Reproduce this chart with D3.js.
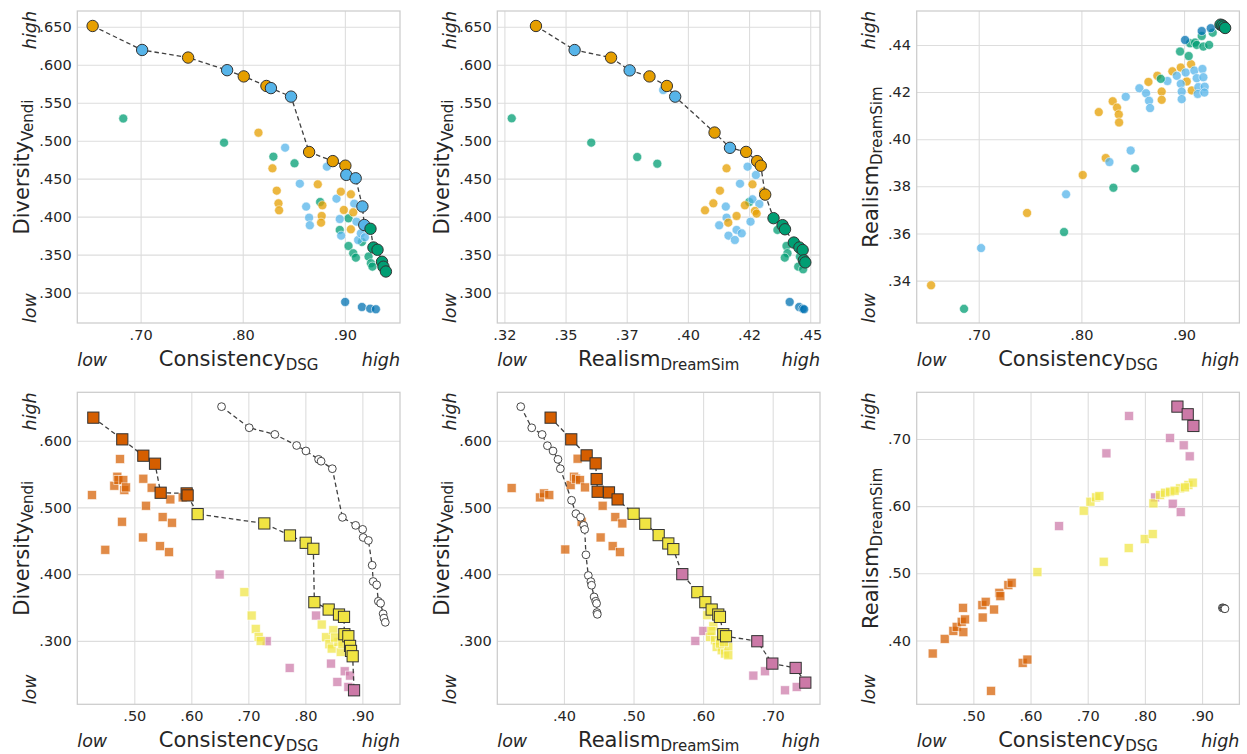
<!DOCTYPE html>
<html>
<head>
<meta charset="utf-8">
<script src="https://cdn.jsdelivr.net/npm/d3@7"></script>
<style>
  body { margin: 0; background: #fff; }
  svg text { font-family: "DejaVu Sans", sans-serif; fill: #262626; }
</style>
</head>
<body>
<svg id="chart" width="1247" height="754"></svg>
<script>
"use strict";

// ---- data: [x, y, group] ----
// groups: o orange, s sky blue, g green, b blue, v vermillion, y yellow, p purple

// pareto fronts of the top row (also redrawn as hollow reference circles below)
const frontConsDiv = [
  [.653, .651, "o"], [.7015, .6194, "s"], [.7465, .6094, "o"], [.7847, .5928, "s"],
  [.801, .5846, "o"], [.8232, .5720, "o"], [.8276, .5692, "s"], [.8473, .5580, "s"],
  [.8650, .4851, "o"], [.8882, .4731, "o"], [.9005, .4671, "o"], [.9014, .4550, "s"],
  [.9106, .4505, "s"], [.9172, .4134, "s"], [.9190, .3890, "s"], [.9251, .3840, "g"],
  [.9280, .3594, "g"], [.9320, .3564, "g"], [.9364, .3406, "g"], [.9378, .3341, "g"],
  [.9402, .3278, "g"]
];
const frontRealDiv = [
  [.3379, .651, "o"], [.3537, .6193, "s"], [.3686, .6093, "o"], [.3762, .5925, "s"],
  [.3843, .5846, "o"], [.3914, .5720, "o"], [.3948, .5580, "s"], [.4109, .5107, "o"],
  [.4172, .4906, "s"], [.4238, .4852, "o"], [.4283, .4731, "o"], [.4298, .4670, "o"],
  [.4316, .4290, "o"], [.4350, .3980, "g"], [.4387, .3888, "g"], [.4397, .3834, "g"],
  [.4433, .3659, "g"], [.4456, .3594, "g"], [.4469, .3561, "g"], [.4474, .3425, "g"],
  [.4480, .3398, "g"]
];
const frontConsReal = [
  [.9355, .4486, "g"], [.9372, .4483, "g"], [.9386, .4478, "g"], [.9400, .4472, "g"]
];

const cloudConsDiv = [
  [.683, .5292, "g"], [.7817, .4974, "g"], [.8300, .4790, "g"], [.8507, .4702, "g"],
  [.8758, .4193, "g"], [.8950, .3825, "g"], [.9036, .3978, "g"], [.9036, .3614, "g"],
  [.9082, .3518, "g"], [.9108, .3460, "g"], [.9167, .3667, "g"], [.9232, .3474, "g"],
  [.9255, .3386, "g"], [.9270, .3342, "g"],
  [.8415, .4908, "s"], [.8824, .4658, "s"], [.8559, .4434, "s"], [.8621, .4132, "s"],
  [.8650, .3987, "s"], [.8657, .3886, "s"], [.8918, .4237, "s"], [.8950, .3969, "s"],
  [.8964, .3750, "s"], [.9092, .4171, "s"], [.9114, .3934, "s"], [.9130, .3693, "s"],
  [.9157, .3780, "s"], [.9196, .3728, "s"],
  [.9003, .2877, "b"], [.9167, .2811, "b"], [.9248, .2789, "b"], [.9304, .2781, "b"],
  [.8154, .5105, "o"], [.8291, .4636, "o"], [.8333, .4342, "o"], [.8350, .4175, "o"],
  [.8356, .4083, "o"], [.8735, .4425, "o"], [.8780, .4149, "o"], [.8773, .4009, "o"],
  [.8767, .3921, "o"], [.8961, .4329, "o"], [.9059, .4294, "o"], [.8990, .4088, "o"],
  [.9082, .4057, "o"], [.9059, .3833, "o"]
];
const cloudRealDiv = [
  [.3280, .5294, "g"], [.3605, .4974, "g"], [.3793, .4785, "g"], [.3875, .4697, "g"],
  [.4251, .4193, "g"], [.4366, .3825, "g"], [.4403, .3614, "g"], [.4407, .3518, "g"],
  [.4396, .3460, "g"], [.4451, .3342, "g"], [.4458, .3474, "g"], [.4471, .3307, "g"],
  [.3899, .5667, "s"], [.4244, .4658, "s"], [.4213, .4434, "s"], [.4278, .4548, "s"],
  [.4155, .4132, "s"], [.4158, .3987, "s"], [.4128, .3886, "s"], [.4166, .3750, "s"],
  [.4192, .3693, "s"], [.4264, .4228, "s"], [.4292, .4167, "s"], [.4256, .3934, "s"],
  [.4199, .3825, "s"], [.4220, .3780, "s"],
  [.4416, .2877, "b"], [.4455, .2811, "b"], [.4469, .2789, "b"], [.4475, .2781, "b"],
  [.4158, .4636, "o"], [.4131, .4342, "o"], [.4104, .4175, "o"], [.4070, .4083, "o"],
  [.4264, .4425, "o"], [.4199, .4009, "o"], [.4233, .4149, "o"], [.4274, .4075, "o"],
  [.4281, .4040, "o"], [.4165, .3921, "o"], [.4308, .4329, "o"]
];
const cloudConsReal = [
  [.6536, .3380, "o"], [.7471, .3687, "o"], [.8013, .3848, "o"], [.8237, .3920, "o"],
  [.8169, .4115, "o"], [.8305, .4161, "o"], [.8347, .4134, "o"], [.8364, .4105, "o"],
  [.8367, .4071, "o"], [.8653, .4243, "o"], [.8740, .4269, "o"], [.8782, .4202, "o"],
  [.8782, .4167, "o"], [.8886, .4288, "o"], [.8968, .4304, "o"], [.9068, .4318, "o"],
  [.9026, .4245, "o"], [.9075, .4207, "o"],
  [.7023, .3538, "s"], [.7851, .3766, "s"], [.8273, .3903, "s"], [.8480, .3952, "s"],
  [.8432, .4180, "s"], [.8565, .4216, "s"], [.8630, .4195, "s"], [.8659, .4163, "s"],
  [.8669, .4132, "s"], [.8838, .4247, "s"], [.8929, .4269, "s"], [.8968, .4235, "s"],
  [.8977, .4202, "s"], [.8977, .4170, "s"], [.9016, .4283, "s"], [.9100, .4291, "s"],
  [.9123, .4259, "s"], [.9139, .4221, "s"], [.9133, .4192, "s"], [.9179, .4298, "s"],
  [.9188, .4263, "s"], [.9201, .4223, "s"], [.9198, .4198, "s"],
  [.6857, .3280, "g"], [.7831, .3606, "g"], [.8312, .3794, "g"], [.8523, .3876, "g"],
  [.8773, .4256, "g"], [.8961, .4372, "g"], [.9045, .4353, "g"], [.9058, .4407, "g"],
  [.9107, .4410, "g"], [.9123, .4400, "g"], [.9188, .4393, "g"], [.9244, .4400, "g"],
  [.9172, .4438, "g"], [.9279, .4452, "g"],
  [.9010, .4421, "b"], [.9172, .4459, "b"], [.9260, .4471, "b"]
];

// bottom row: square markers
const frontConsDivB = [
  [.4281, .6345, "v"], [.4789, .6020, "v"], [.5158, .5775, "v"], [.5363, .5655, "v"],
  [.5462, .5220, "v"], [.5918, .5210, "v"], [.5935, .5180, "v"],
  [.6111, .4900, "y"], [.7280, .4760, "y"], [.7730, .4580, "y"], [.8006, .4470, "y"],
  [.8140, .4380, "y"], [.8158, .3580, "y"], [.8409, .3470, "y"], [.8590, .3395, "y"],
  [.8678, .3360, "y"], [.8684, .3100, "y"], [.8754, .3070, "y"], [.8784, .2925, "y"],
  [.8801, .2850, "y"], [.8830, .2770, "y"], [.8854, .2260, "p"]
];
const frontRealDivB = [
  [.3808, .6345, "v"], [.4105, .6020, "v"], [.4326, .5780, "v"], [.4455, .5660, "v"],
  [.4470, .5425, "v"], [.4484, .5235, "v"], [.4647, .5225, "v"], [.4771, .5120, "v"],
  [.5001, .4905, "y"], [.5169, .4755, "y"], [.5361, .4585, "y"], [.5500, .4460, "y"],
  [.5572, .4375, "y"], [.5701, .4000, "p"], [.5917, .3730, "y"], [.6032, .3580, "y"],
  [.6123, .3470, "y"], [.6218, .3395, "y"], [.6242, .3360, "y"], [.6290, .3100, "y"],
  [.6329, .3070, "y"], [.6779, .2995, "p"], [.6995, .2660, "p"], [.7330, .2595, "p"],
  [.7469, .2375, "p"]
];
const frontConsRealB = [
  [.8569, .7482, "p"], [.8749, .7368, "p"], [.8848, .7194, "p"]
];

const cloudConsDivB = [
  [.4257, .5185, "v"], [.4491, .4365, "v"], [.4649, .5325, "v"], [.4702, .5460, "v"],
  [.4720, .5410, "v"], [.4749, .5725, "v"], [.4784, .4785, "v"], [.4807, .5410, "v"],
  [.4825, .5260, "v"], [.4854, .5300, "v"], [.5158, .5430, "v"], [.5205, .5025, "v"],
  [.5304, .5295, "v"], [.5152, .4550, "v"], [.5450, .4420, "v"], [.5497, .4855, "v"],
  [.5608, .4330, "v"], [.5632, .5120, "v"], [.5661, .4770, "v"], [.5848, .5150, "v"],
  [.6497, .3995, "p"], [.7322, .2995, "p"], [.7725, .2595, "p"], [.8187, .3380, "p"],
  [.8450, .2660, "p"], [.8561, .2385, "p"], [.8690, .2545, "p"], [.8784, .2480, "p"],
  [.8754, .2310, "p"],
  [.6930, .3730, "y"], [.7058, .3380, "y"], [.7130, .3180, "y"], [.7181, .3060, "y"],
  [.7216, .3000, "y"], [.8287, .3245, "y"], [.8363, .3055, "y"], [.8421, .2950, "y"],
  [.8462, .2885, "y"], [.8491, .3160, "y"], [.8579, .2985, "y"], [.8620, .2835, "y"],
  [.8520, .3050, "y"], [.8650, .2950, "y"]
];
const cloudRealDivB = [
  [.3248, .5290, "v"], [.3655, .5150, "v"], [.3713, .5210, "v"], [.3789, .5185, "v"],
  [.4019, .4370, "v"], [.4096, .5335, "v"], [.4144, .5460, "v"], [.4173, .5430, "v"],
  [.4196, .5730, "v"], [.4230, .5410, "v"], [.4302, .5300, "v"], [.4254, .4785, "v"],
  [.4527, .4550, "v"], [.4556, .5025, "v"], [.4700, .4420, "v"], [.4738, .4855, "v"],
  [.4805, .4330, "v"], [.4839, .4760, "v"],
  [.5888, .3000, "p"], [.6003, .3150, "p"], [.6722, .2480, "p"], [.6889, .2545, "p"],
  [.7177, .2260, "p"], [.7345, .2310, "p"],
  [.6060, .3385, "y"], [.6147, .3220, "y"], [.6100, .3060, "y"], [.6171, .3010, "y"],
  [.6195, .2910, "y"], [.6267, .2860, "y"], [.6314, .2810, "y"], [.6362, .2910, "y"],
  [.6362, .2785, "y"], [.6242, .2960, "y"], [.6120, .3150, "y"], [.6300, .2980, "y"]
];
const cloudConsRealB = [
  [.7723, .7343, "p"], [.7327, .6786, "p"], [.8440, .7015, "p"], [.8679, .6906, "p"],
  [.8784, .6742, "p"], [.6499, .5703, "p"], [.8487, .6036, "p"], [.8627, .5912, "p"],
  [.8178, .6130, "p"],
  [.6120, .5018, "y"], [.6930, .5932, "y"], [.7047, .6066, "y"], [.7146, .6131, "y"],
  [.7204, .6150, "y"], [.7280, .5172, "y"], [.7717, .5376, "y"], [.7997, .5510, "y"],
  [.8137, .5584, "y"], [.8149, .6041, "y"], [.8265, .6165, "y"], [.8353, .6200, "y"],
  [.8440, .6215, "y"], [.8615, .6265, "y"], [.8761, .6315, "y"], [.8837, .6350, "y"],
  [.8520, .6230, "y"], [.8700, .6280, "y"],
  [.4289, .3806, "v"], [.4499, .4024, "v"], [.4650, .4143, "v"], [.4708, .4203, "v"],
  [.4796, .4278, "v"], [.4819, .4486, "v"], [.4825, .4124, "v"], [.4854, .4314, "v"],
  [.5157, .4526, "v"], [.5163, .4342, "v"], [.5216, .4576, "v"], [.5362, .4461, "v"],
  [.5309, .3250, "v"], [.5455, .4710, "v"], [.5472, .4660, "v"], [.5612, .4824, "v"],
  [.5670, .4859, "v"], [.5863, .3667, "v"], [.5945, .3716, "v"]
];

// ticks
const divTicksTop = [.30, .35, .40, .45, .50, .55, .60, .65];
const divTicksBottom = [.30, .40, .50, .60];
const consTicksTop = [.70, .80, .90];
const consTicksBottom = [.50, .60, .70, .80, .90];
const realTicksTop = [.325, .35, .375, .40, .425, .45];
const realTickLabelsTop = [".32", ".35", ".37", ".40", ".42", ".45"];
const realTicksRight = [.34, .36, .38, .40, .42, .44];
const realTicksBottom = [.40, .50, .60, .70];
const realTicksRightB = [.40, .50, .60, .70];

const colors = {
  o: "#E69F00", s: "#56B4E9", g: "#009E73", b: "#0072B2",
  v: "#D55E00", y: "#F0E442", p: "#CC79A7"
};

const svg = d3.select("#chart");
const W = 322.7, H = 312;
const cols = [77.3, 497.3, 916.7];
const rows = [11, 392.3];

const noZero = (dec) => (d) => d3.format("." + dec + "f")(d).replace(/^0/, "");

const panels = [
  { left: cols[0], top: rows[0], xDom: [.638, .954], yDom: [.260, .6707],
    xTicks: consTicksTop, xFmt: noZero(2), yTicks: divTicksTop, yFmt: noZero(3),
    xLab: ["Consistency", "DSG"], yLab: ["Diversity", "Vendi"],
    cloud: cloudConsDiv, front: frontConsDiv, shape: "circle" },
  { left: cols[1], top: rows[0], xDom: [.3221, .454], yDom: [.260, .6707],
    xTicks: realTicksTop, xFmt: (d, i) => realTickLabelsTop[i], yTicks: divTicksTop, yFmt: noZero(3),
    xLab: ["Realism", "DreamSim"], yLab: ["Diversity", "Vendi"],
    cloud: cloudRealDiv, front: frontRealDiv, shape: "circle" },
  { left: cols[2], top: rows[0], xDom: [.6396, .9539], yDom: [.322, .4544],
    xTicks: consTicksTop, xFmt: noZero(2), yTicks: realTicksRight, yFmt: noZero(2),
    xLab: ["Consistency", "DSG"], yLab: ["Realism", "DreamSim"],
    cloud: cloudConsReal, front: frontConsReal, shape: "circle" },
  { left: cols[0], top: rows[1], xDom: [.400, .966], yDom: [.205, .6725],
    xTicks: consTicksBottom, xFmt: noZero(2), yTicks: divTicksBottom, yFmt: noZero(3),
    xLab: ["Consistency", "DSG"], yLab: ["Diversity", "Vendi"],
    cloud: cloudConsDivB, front: frontConsDivB, ref: frontConsDiv, shape: "square" },
  { left: cols[1], top: rows[1], xDom: [.3042, .768], yDom: [.205, .6725],
    xTicks: realTicksBottom, xFmt: noZero(2), yTicks: divTicksBottom, yFmt: noZero(3),
    xLab: ["Realism", "DreamSim"], yLab: ["Diversity", "Vendi"],
    cloud: cloudRealDivB, front: frontRealDivB, ref: frontRealDiv, shape: "square" },
  { left: cols[2], top: rows[1], xDom: [.4009, .9653], yDom: [.305, .7695],
    xTicks: consTicksBottom, xFmt: noZero(2), yTicks: realTicksRightB, yFmt: noZero(2),
    xLab: ["Consistency", "DSG"], yLab: ["Realism", "DreamSim"],
    cloud: cloudConsRealB, front: frontConsRealB, ref: frontConsReal, shape: "square" }
];

panels.forEach(drawPanel);

function drawPanel(p) {
  const g = svg.append("g");
  const x = d3.scaleLinear().domain(p.xDom).range([p.left, p.left + W]);
  const y = d3.scaleLinear().domain(p.yDom).range([p.top + H, p.top]);
  const bottom = p.top + H;

  // axes with full-length ticks as the grid
  const xAxis = g.append("g")
    .attr("transform", "translate(0," + bottom + ")")
    .call(d3.axisBottom(x).tickValues(p.xTicks).tickFormat(p.xFmt).tickSize(-H).tickPadding(6.7));
  const yAxis = g.append("g")
    .attr("transform", "translate(" + p.left + ",0)")
    .call(d3.axisLeft(y).tickValues(p.yTicks).tickFormat(p.yFmt).tickSize(-W).tickPadding(5.7));
  [xAxis, yAxis].forEach(a => {
    a.select(".domain").remove();
    a.selectAll("line").attr("stroke", "#dddddd").attr("stroke-width", 1.1);
    a.selectAll("text").attr("font-size", 14.5).attr("fill", "#262626")
      .attr("font-family", "DejaVu Sans, sans-serif");
  });

  g.append("rect")
    .attr("x", p.left).attr("y", p.top).attr("width", W).attr("height", H)
    .attr("fill", "none").attr("stroke", "#cccccc").attr("stroke-width", 1.25);

  // scattered points
  const cloud = g.append("g");
  if (p.shape === "circle") {
    cloud.selectAll("circle").data(p.cloud).enter().append("circle")
      .attr("cx", d => x(d[0])).attr("cy", d => y(d[1])).attr("r", 4.5)
      .attr("fill", d => colors[d[2]]).attr("fill-opacity", 0.75)
      .attr("stroke", "#ffffff").attr("stroke-width", 0.8).attr("stroke-opacity", 0.7);
  } else {
    const s = 9;
    cloud.selectAll("rect").data(p.cloud).enter().append("rect")
      .attr("x", d => x(d[0]) - s / 2).attr("y", d => y(d[1]) - s / 2)
      .attr("width", s).attr("height", s)
      .attr("fill", d => colors[d[2]]).attr("fill-opacity", 0.72)
      .attr("stroke", "#ffffff").attr("stroke-width", 0.8).attr("stroke-opacity", 0.7);
  }

  const line = d3.line().x(d => x(d[0])).y(d => y(d[1]));

  // reference front (hollow circles) in bottom row
  if (p.ref) {
    g.append("path").datum(p.ref).attr("d", line)
      .attr("fill", "none").attr("stroke", "#404040").attr("stroke-width", 1.3)
      .attr("stroke-dasharray", "4.5,3");
    g.append("g").selectAll("circle").data(p.ref).enter().append("circle")
      .attr("cx", d => x(d[0])).attr("cy", d => y(d[1])).attr("r", 3.9)
      .attr("fill", "#ffffff").attr("stroke", "#333333").attr("stroke-width", 0.9);
  }

  // pareto front
  g.append("path").datum(p.front).attr("d", line)
    .attr("fill", "none").attr("stroke", "#404040").attr("stroke-width", 1.3)
    .attr("stroke-dasharray", "4.5,3");
  const fg = g.append("g");
  if (p.shape === "circle") {
    fg.selectAll("circle").data(p.front).enter().append("circle")
      .attr("cx", d => x(d[0])).attr("cy", d => y(d[1])).attr("r", 5.7)
      .attr("fill", d => colors[d[2]]).attr("stroke", "#333333").attr("stroke-width", 1);
  } else {
    const s = 11.2;
    fg.selectAll("rect").data(p.front).enter().append("rect")
      .attr("x", d => x(d[0]) - s / 2).attr("y", d => y(d[1]) - s / 2)
      .attr("width", s).attr("height", s)
      .attr("fill", d => colors[d[2]]).attr("stroke", "#333333").attr("stroke-width", 1);
  }

  // x label with subscript
  const xl = g.append("text")
    .attr("x", p.left + W / 2).attr("y", bottom + 42.5)
    .attr("text-anchor", "middle");
  xl.append("tspan").attr("font-size", 21).text(p.xLab[0]);
  xl.append("tspan").attr("font-size", 15).attr("dy", 4).text(p.xLab[1]);

  g.append("text").attr("x", p.left).attr("y", bottom + 43)
    .attr("font-size", 17.5).attr("font-style", "italic").text("low");
  g.append("text").attr("x", p.left + W).attr("y", bottom + 43)
    .attr("text-anchor", "end").attr("font-size", 17.5).attr("font-style", "italic").text("high");

  // y label, placed just left of the tick labels
  const tickBox = yAxis.node().getBBox();
  const labX = p.left + tickBox.x - 10;
  const yl = g.append("text")
    .attr("transform", "translate(" + labX + "," + (p.top + H / 2) + ") rotate(-90)")
    .attr("text-anchor", "middle");
  yl.append("tspan").attr("font-size", 21).text(p.yLab[0]);
  yl.append("tspan").attr("font-size", 15).attr("dy", 4).text(p.yLab[1]);

  g.append("text")
    .attr("transform", "translate(" + (p.left - 41.5) + "," + p.top + ") rotate(-90)")
    .attr("text-anchor", "end").attr("font-size", 17.5).attr("font-style", "italic").text("high");
  g.append("text")
    .attr("transform", "translate(" + (p.left - 41.5) + "," + bottom + ") rotate(-90)")
    .attr("font-size", 17.5).attr("font-style", "italic").text("low");
}
</script>
</body>
</html>
